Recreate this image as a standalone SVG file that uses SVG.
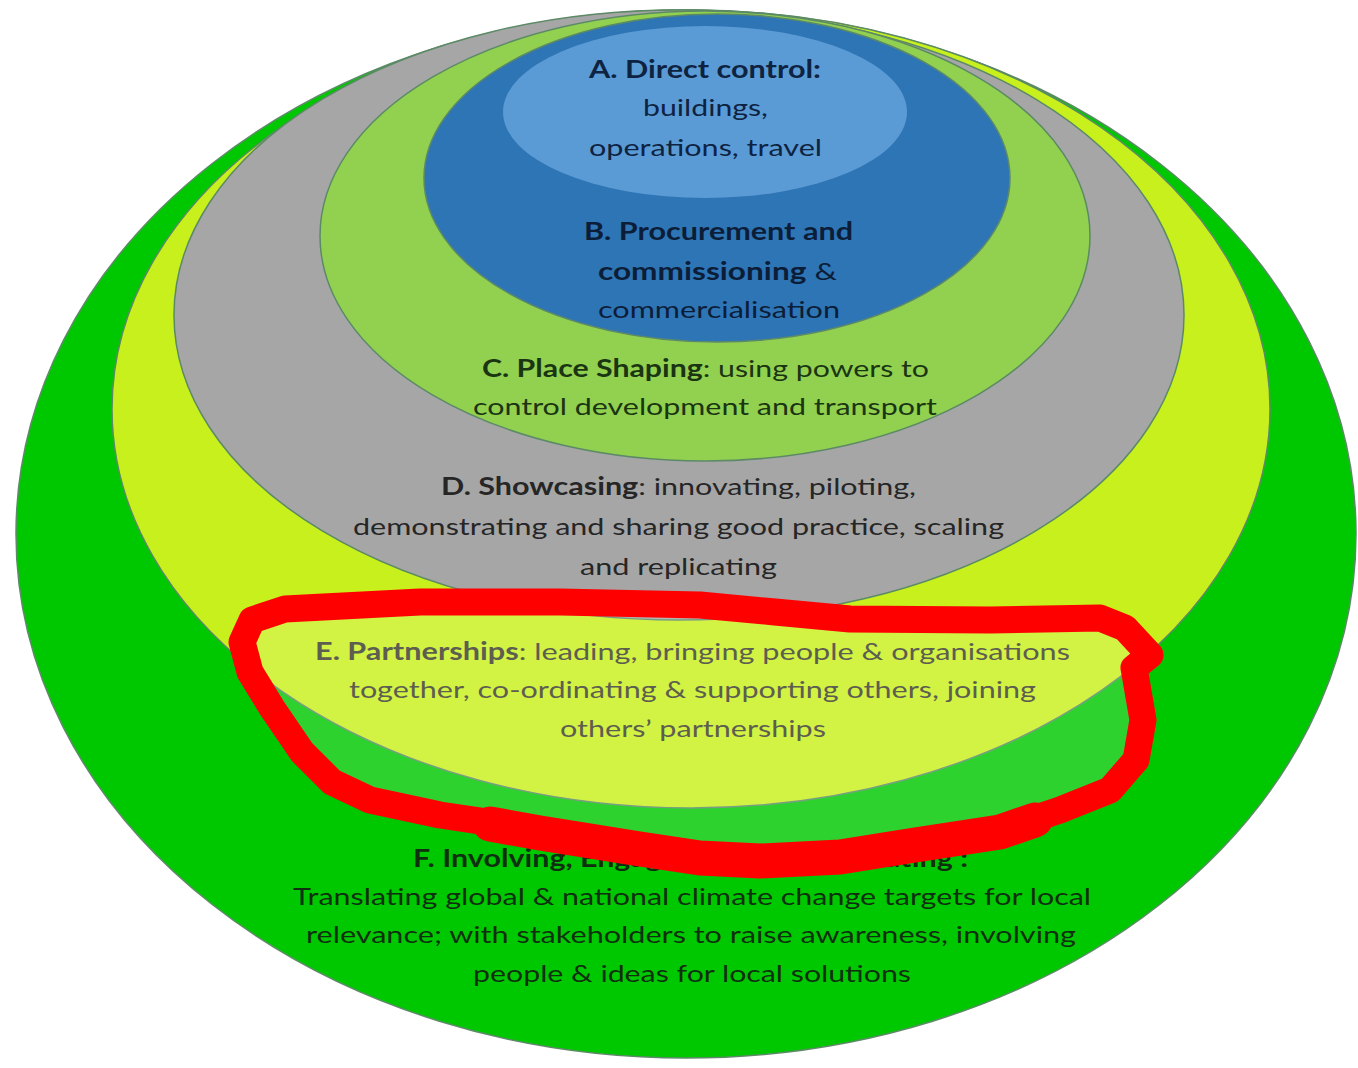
<svg xmlns="http://www.w3.org/2000/svg" width="1358" height="1068" viewBox="0 0 1358 1068">
<style>
  .ring{stroke:#5c8a66;stroke-width:1.5}
  text{font-family:Lato,"Open Sans","Liberation Sans",sans-serif;font-size:24px}
  .b{font-weight:700}
  .ta{fill:#0e2341}
  .tb{fill:#0c1d38}
  .tc{fill:#1a3512}
  .td{fill:#262626}
  .te{fill:#3a3a2a}
  .tf{fill:#0f3010}
  .loop{fill:none;stroke:#ff0000;stroke-linejoin:round;stroke-linecap:round}
  .veil{fill:#ffffff;fill-opacity:0.18;stroke:none}
</style>
<rect width="1358" height="1068" fill="#ffffff"/>

<g id="node-F">
  <ellipse class="ring" cx="686" cy="534" rx="670" ry="524" fill="#00c800"/>
  <text class="tf b" x="413" y="867" textLength="555" lengthAdjust="spacingAndGlyphs">F. Involving, Engaging &amp; Communicating :</text>
  <text class="tf" x="293" y="905" textLength="798" lengthAdjust="spacingAndGlyphs">Translating global &amp; national climate change targets for local</text>
  <text class="tf" x="306" y="943" textLength="770" lengthAdjust="spacingAndGlyphs">relevance; with stakeholders to raise awareness, involving</text>
  <text class="tf" x="473" y="982" textLength="438" lengthAdjust="spacingAndGlyphs">people &amp; ideas for local solutions</text>
</g>

<g id="node-E">
  <ellipse class="ring" cx="691" cy="409" rx="579" ry="399" fill="#c8f01c"/>
  <text class="te" x="315" y="660" textLength="755" lengthAdjust="spacingAndGlyphs"><tspan class="b">E. Partnerships</tspan>: leading, bringing people &amp; organisations</text>
  <text class="te" x="349" y="698" textLength="687" lengthAdjust="spacingAndGlyphs">together, co-ordinating &amp; supporting others, joining</text>
  <text class="te" x="560" y="737" textLength="266" lengthAdjust="spacingAndGlyphs">others’ partnerships</text>
</g>

<g id="node-D">
  <ellipse class="ring" cx="679" cy="315" rx="505" ry="305" fill="#a6a6a6"/>
  <text class="td" x="441" y="495" textLength="475" lengthAdjust="spacingAndGlyphs"><tspan class="b">D. Showcasing</tspan>: innovating, piloting,</text>
  <text class="td" x="353" y="535" textLength="651" lengthAdjust="spacingAndGlyphs">demonstrating and sharing good practice, scaling</text>
  <text class="td" x="580" y="575" textLength="197" lengthAdjust="spacingAndGlyphs">and replicating</text>
</g>

<g id="node-C">
  <ellipse class="ring" cx="705" cy="236" rx="385" ry="225" fill="#92d050"/>
  <text class="tc" x="482" y="377" textLength="447" lengthAdjust="spacingAndGlyphs"><tspan class="b">C. Place Shaping</tspan>: using powers to</text>
  <text class="tc" x="473" y="415" textLength="464" lengthAdjust="spacingAndGlyphs">control development and transport</text>
</g>

<g id="node-B">
  <ellipse class="ring" cx="717" cy="178" rx="293" ry="164" fill="#2e75b6"/>
  <text class="tb b" x="584" y="240" textLength="269" lengthAdjust="spacingAndGlyphs">B. Procurement and</text>
  <text class="tb" x="598" y="280" textLength="239" lengthAdjust="spacingAndGlyphs"><tspan class="b">commissioning</tspan>  &amp;</text>
  <text class="tb" x="598" y="318" textLength="242" lengthAdjust="spacingAndGlyphs">commercialisation</text>
</g>

<g id="node-A">
  <ellipse cx="705" cy="112" rx="202" ry="86" fill="#5b9bd5"/>
  <text class="ta b" x="589" y="78" textLength="232" lengthAdjust="spacingAndGlyphs">A. Direct control:</text>
  <text class="ta" x="643" y="116" textLength="125" lengthAdjust="spacingAndGlyphs">buildings,</text>
  <text class="ta" x="589" y="156" textLength="233" lengthAdjust="spacingAndGlyphs">operations, travel</text>
</g>

<g id="connectors"></g>

<g id="annotation">
  <path class="veil" d="M242 642 L252 620 L285 609 L420 602 L560 602 L700 605 L775 612 L850 619 L990 620 L1100 618 L1125 628 L1150 655 L1134 668 L1143 720 L1136 760 L1110 790 L1060 810 L1000 830 L915 843 L840 854 L760 858 L700 855 L640 846 L540 830 L440 815 L370 800 L332 782 L302 752 L272 708 L250 672 Z"/>
  <path class="loop" stroke-width="27" d="M242 642 L252 620 L285 609 L420 602 L560 602 L700 605 L775 612 L850 619 L990 620 L1100 618 L1125 628 L1150 655 L1134 668 L1143 720 L1136 760 L1110 790 L1060 810 L1000 830 L915 843 L840 854 L760 858 L700 855 L640 846 L540 830 L440 815 L370 800 L332 782 L302 752 L272 708 L250 672 Z"/>
  <path class="loop" stroke-width="35" d="M1035 820 L1000 832 L915 845 L840 857 L760 861 L700 858 L640 849 L540 833 L490 824"/>
</g>
</svg>
